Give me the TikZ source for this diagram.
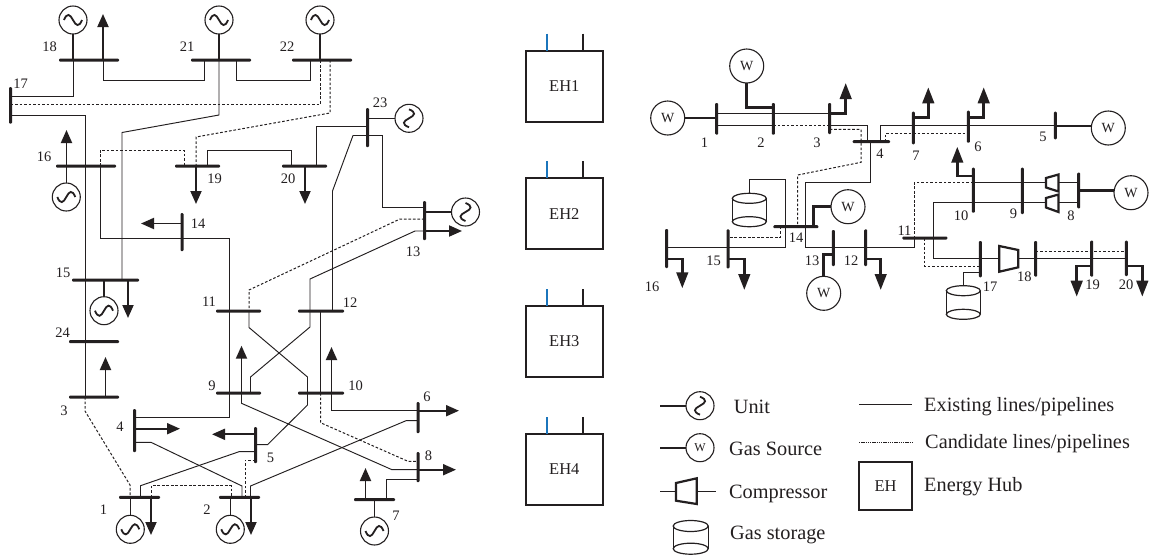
\documentclass[tikz,border=0pt]{standalone}
\usepackage{fontspec}
\setmainfont{Liberation Serif}
\usetikzlibrary{arrows.meta}
\definecolor{ink}{HTML}{231F20}
\definecolor{hubblue}{HTML}{1B75BC}
\makeatletter
\def\hp@parse#1,#2\relax{\pgf@process{\pgfpointanchor{#1}{center}}\pgf@x=#2pt\relax}
\def\vp@parse#1,#2\relax{\pgf@process{\pgfpointanchor{#1}{center}}\pgf@y=-#2pt\relax}
\tikzdeclarecoordinatesystem{hp}{\hp@parse#1\relax}
\tikzdeclarecoordinatesystem{vp}{\vp@parse#1\relax}
\makeatother
\tikzset{
  busbar/.style={draw=none,fill=ink,inner sep=0pt,outer sep=0pt,rounded corners=1pt},
  wire/.style={draw=ink,line width=0.95pt},
  cand/.style={draw=ink,line width=1pt,dash pattern=on 2.6pt off 1.9pt},
  feed/.style={draw=ink,line width=1.6pt},
  gasfeed/.style={draw=ink,line width=2.8pt},
  eload/.style={draw=ink,line width=1.9pt,-{Triangle[length=13pt,width=11pt]}},
  gload/.style={draw=ink,line width=2.8pt,-{Triangle[length=16pt,width=11.5pt]}},
  gencirc/.style={circle,draw=ink,line width=1.1pt,minimum size=28pt,inner sep=0pt,outer sep=0pt},
  wcirc/.style={circle,draw=ink,line width=1.1pt,minimum size=34pt,inner sep=0pt,outer sep=0pt,font=\fontsize{14}{14}\selectfont,text=ink},
  wave/.style={draw=ink,line width=1.8pt},
  lab/.style={inner sep=0pt,text=ink,font=\fontsize{14.5}{15}\selectfont},
  legtext/.style={inner sep=0pt,anchor=west,text=ink,font=\fontsize{20.3}{21}\selectfont},
  hubbox/.style={rectangle,draw=ink,line width=1.7pt,inner sep=0pt,outer sep=0pt,text=ink,font=\fontsize{16.5}{17}\selectfont},
  comp/.style={draw=ink,line width=2.2pt,line join=miter},
  cyl/.style={draw=ink,line width=1.2pt},
}
\newcommand\hbus[4]{\node[busbar,minimum width={#3-#2},minimum height=3pt] (#1) at ({(#2+#3)/2},#4) {};}
\newcommand\vbus[4]{\node[busbar,minimum width=3pt,minimum height={#4-#3}] (#1) at (#2,{(#3+#4)/2}) {};}
\newcommand\lab[4]{\node[lab] (#1) at (#2,#3) {#4};}
\newcommand\wavehoriz[1]{\draw[wave,shift={(#1)}] (-9,0) .. controls (-6,-7.5) and (-3,-6) .. (0,0) .. controls (3,6) and (6,7.5) .. (9,0);}
\newcommand\wavemirror[1]{\draw[wave,shift={(#1)},yscale=-1] (-9,0) .. controls (-6,-7.5) and (-3,-6) .. (0,0) .. controls (3,6) and (6,7.5) .. (9,0);}
\newcommand\wavevert[1]{\draw[wave,shift={(#1)},rotate=90] (-9,0) .. controls (-6,-7.5) and (-3,-6) .. (0,0) .. controls (3,6) and (6,7.5) .. (9,0);}
% storage: name, cx, ytop, ybot, rx, ry
\newcommand\storage[6]{%
  \draw[cyl] (#2,#3) ellipse [x radius=#5,y radius=#6];
  \draw[cyl] (#2,#4) ellipse [x radius=#5,y radius=#6];
  \draw[cyl] ({#2-#5},#3) -- ({#2-#5},#4) ({#2+#5},#3) -- ({#2+#5},#4);
  \coordinate (#1) at (#2,{#3-#6});}
\begin{document}
\begin{tikzpicture}[x=1pt,y=-1pt]
\useasboundingbox (0,0) rectangle (1151,558);
\fill[white] (0,0) rectangle (1151,558);
% ---------- power system buses
\hbus{e18}{59}{119}{60}
\hbus{e21}{191}{251}{60}
\hbus{e22}{292}{352}{60}
\vbus{e17}{10.5}{87}{123.5}
\hbus{e16}{56}{116}{166}
\hbus{e19}{175}{220}{166}
\hbus{e20}{282}{327}{166}
\vbus{e23}{367.5}{108}{147}
\vbus{e13}{424.5}{201}{240}
\vbus{e14}{182}{213}{251}
\hbus{e15}{72}{139}{280}
\hbus{e11}{216}{261}{311}
\hbus{e12}{298}{344}{311}
\hbus{e24}{69}{119}{341.7}
\hbus{e9}{216}{261}{393}
\hbus{e10}{298}{344}{393}
\hbus{e3}{69}{119}{397}
\vbus{e4}{134.5}{409}{452}
\vbus{e5}{255.5}{427}{463}
\vbus{e6}{418}{402}{433}
\vbus{e8}{418}{452}{482}
\hbus{e7}{354}{395}{499.7}
\hbus{e1}{119}{160}{497.3}
\hbus{e2}{219}{260}{497.3}
% generators
\node[gencirc] (u18) at (73,20) {};
\node[gencirc] (u21) at (219,20) {};
\node[gencirc] (u22) at (320,20) {};
\node[gencirc] (u16) at (66.3,197) {};
\node[gencirc] (u15) at (104,310.7) {};
\node[gencirc] (u23) at (409,118.3) {};
\node[gencirc] (u13) at (465.5,212) {};
\node[gencirc] (u1) at (130.3,529.3) {};
\node[gencirc] (u2) at (230.3,529.3) {};
\node[gencirc] (u7) at (374.5,531) {};
\wavehoriz{u18}\wavehoriz{u21}\wavehoriz{u22}
\wavemirror{u16}\wavemirror{u15}\wavemirror{u1}\wavemirror{u2}\wavemirror{u7}
\wavevert{u23}\wavevert{u13}
\draw[feed] (u18 |- e18) -- (u18);
\draw[feed] (u21 |- e21) -- (u21);
\draw[feed] (u22 |- e22) -- (u22);
\draw[feed] (u16 |- e16) -- (u16);
\draw[feed] (u15 |- e15) -- (u15);
\draw[feed] (u1 |- e1) -- (u1);
\draw[feed] (u2 |- e2) -- (u2);
\draw[feed] (u7 |- e7) -- (u7);
\draw[feed] (u23 -| e23) -- (u23);
\draw[feed] (u13 -| e13) -- (u13);
% loads
\coordinate (l18) at (103,14);  \draw[eload] (hp cs:e18,103) -- (l18);
\coordinate (l16) at (66.5,130); \draw[eload] (hp cs:e16,66.5) -- (l16);
\coordinate (l19) at (196,204); \draw[eload] (hp cs:e19,196) -- (l19);
\coordinate (l20) at (305,204); \draw[eload] (hp cs:e20,305) -- (l20);
\coordinate (l14) at (141,223.5); \draw[eload] (vp cs:e14,223.5) -- (l14);
\coordinate (l13) at (462,231); \draw[eload] (vp cs:e13,231) -- (l13);
\coordinate (l15) at (128,318); \draw[eload] (hp cs:e15,128) -- (l15);
\coordinate (l3) at (105.5,357); \draw[eload] (hp cs:e3,105.5) -- (l3);
\coordinate (l9) at (241.5,345.7); \draw[eload] (hp cs:e9,241.5) -- (l9);
\coordinate (l10) at (331.5,347); \draw[eload] (hp cs:e10,331.5) -- (l10);
\coordinate (l4) at (180,428.7); \draw[eload] (vp cs:e4,428.7) -- (l4);
\coordinate (l5) at (212,434.3); \draw[eload] (vp cs:e5,434.3) -- (l5);
\coordinate (l6) at (459,410.7); \draw[eload] (vp cs:e6,410.7) -- (l6);
\coordinate (l8) at (456,469.7); \draw[eload] (vp cs:e8,469.7) -- (l8);
\coordinate (l7) at (365.5,468); \draw[eload] (hp cs:e7,365.5) -- (l7);
\coordinate (l1) at (151,535); \draw[eload] (hp cs:e1,151) -- (l1);
\coordinate (l2) at (251,535); \draw[eload] (hp cs:e2,251) -- (l2);
% lines
\draw[wire] (hp cs:e18,103) -- (103,80) -- (204.5,80) -- (hp cs:e21,204.5);
\draw[wire] (hp cs:e21,236) -- (236,80) -- (310,80) -- (hp cs:e22,310);
\draw[wire] (hp cs:e18,73) -- (73,96.5) -- (vp cs:e17,96.5);
\draw[cand] (vp cs:e17,104.5) -- (320,104.5) -- (hp cs:e22,320);
\draw[cand] (hp cs:e22,330) -- (330,113) -- (196,137) -- (hp cs:e19,196);
\draw[wire] (vp cs:e17,115) -- (85,115) -- (hp cs:e15,85);
\draw[wire] (hp cs:e15,85) -- (hp cs:e24,85);
\draw[wire] (hp cs:e24,85) -- (hp cs:e3,85);
\draw[cand] (hp cs:e16,100) -- (100,150) -- (184,150) -- (hp cs:e19,184);
\draw[wire] (hp cs:e16,100) -- (100,238.5) -- (vp cs:e14,238.5);
\draw[wire] (vp cs:e14,238.5) -- (229,238.5) -- (hp cs:e11,229);
\draw[wire] (hp cs:e11,229) -- (hp cs:e9,229);
\draw[wire] (hp cs:e9,229) -- (229,417.7) -- (vp cs:e4,417.7);
\draw[wire] (hp cs:e21,219) -- (219,115) -- (122,132.5) -- (hp cs:e15,122);
\draw[wire] (hp cs:e19,207) -- (207,150) -- (291,150) -- (hp cs:e20,291);
\draw[wire] (hp cs:e20,316) -- (316,126.5) -- (vp cs:e23,126.5);
\draw[wire] (vp cs:e23,135.5) -- (353,135.5) -- (332.5,191) -- (hp cs:e12,332.5);
\draw[wire] (vp cs:e23,135.5) -- (382,135.5) -- (382,207.5) -- (vp cs:e13,207.5);
\draw[cand] (vp cs:e13,219) -- (400,219) -- (249,290) -- (hp cs:e11,249);
\draw[wire] (vp cs:e13,231) -- (415,231) -- (310,279) -- (hp cs:e12,310);
\draw[wire] (hp cs:e12,310) -- (310,327) -- (250.5,377) -- (hp cs:e9,250.5);
\draw[wire] (hp cs:e11,249) -- (249,327.5) -- (307.5,377) -- (hp cs:e10,307.5);
\draw[wire] (hp cs:e10,307.5) -- (307.5,405) -- (267.5,444.7) -- (vp cs:e5,444.7);
\draw[wire] (hp cs:e12,320.5) -- (hp cs:e10,320.5);
\draw[wire] (hp cs:e10,331.5) -- (331.5,410.7) -- (vp cs:e6,410.7);
\draw[wire] (hp cs:e9,241.5) -- (241.5,403.3) -- (392,469.7) -- (vp cs:e8,469.7);
\draw[cand] (hp cs:e10,320.5) -- (320.5,422.7) -- (408,461.3) -- (vp cs:e8,461.3);
\draw[wire] (vp cs:e8,479) -- (386,479) -- (hp cs:e7,386);
\draw[wire] (vp cs:e6,420.7) -- (406,420.7) -- (250.5,486) -- (hp cs:e2,250.5);
\draw[wire] (hp cs:e1,140.5) -- (140.5,485.7) -- (239,451.7) -- (vp cs:e5,451.7);
\draw[cand] (hp cs:e1,151) -- (151,485.7) -- (231,485.7) -- (hp cs:e2,231);
\draw[cand] (hp cs:e3,85) -- (85,411) -- (130,485) -- (hp cs:e1,130);
\draw[wire] (vp cs:e4,442.3) -- (151,442.3) -- (242,486) -- (hp cs:e2,242);
\draw[cand] (hp cs:e2,245) -- (245,460) -- (vp cs:e5,460);
% power labels
\lab{n18}{49.5}{47}{18}\lab{n21}{187}{47}{21}\lab{n22}{287}{47}{22}
\lab{n17}{20.5}{84}{17}\lab{n23}{380}{103}{23}\lab{n16}{44}{157}{16}
\lab{n19}{214.5}{178.5}{19}\lab{n20}{288}{178.5}{20}\lab{n14}{198}{224}{14}
\lab{n13}{413}{251.5}{13}\lab{n15}{63}{272.5}{15}\lab{n11}{209}{302}{11}
\lab{n12}{350}{303}{12}\lab{n24}{62.5}{333}{24}\lab{n9}{212}{385.5}{9}
\lab{n10}{355.5}{385.5}{10}\lab{n3}{64}{410.5}{3}\lab{n4}{120}{427}{4}
\lab{n5}{270.5}{458}{5}\lab{n6}{427}{396.5}{6}\lab{n8}{428.5}{456}{8}
\lab{n7}{396}{516}{7}\lab{n1}{103.5}{509.5}{1}\lab{n2}{207}{509.5}{2}
% ---------- energy hubs
\node[hubbox,minimum width=76.7pt,minimum height=71pt] (h1) at (564.3,86.2) {EH1};
\node[hubbox,minimum width=76.7pt,minimum height=71pt] (h2) at (564.3,213.7) {EH2};
\node[hubbox,minimum width=76.7pt,minimum height=71pt] (h3) at (564.3,341.5) {EH3};
\node[hubbox,minimum width=76.7pt,minimum height=71pt] (h4) at (564.3,469.5) {EH4};
\foreach \h in {h1,h2,h3,h4}{
  \coordinate (\h a) at ([xshift=-17.6,yshift=17]\h.north);
  \coordinate (\h b) at ([xshift=18.4,yshift=17]\h.north);
  \draw[draw=hubblue,line width=1.7pt] (\h a) -- (\h a |- \h.north);
  \draw[draw=ink,line width=1.7pt] (\h b) -- (\h b |- \h.north);
}
% ---------- gas system buses
\vbus{g1}{716.7}{103}{134.7}
\vbus{g2}{773.3}{103}{134.7}
\vbus{g3}{829.7}{103}{134}
\hbus{g4}{852.7}{890}{141.7}
\vbus{g7}{913.3}{111.7}{144.3}
\vbus{g6}{968.3}{110.7}{142.7}
\vbus{g5}{1055.3}{111.7}{139.3}
\vbus{g10}{973.3}{167.7}{212.7}
\vbus{g9}{1022.3}{167.7}{214}
\vbus{g8}{1078.7}{172.7}{208.3}
\hbus{g11}{902.3}{947.3}{238}
\vbus{g12}{865.7}{229.3}{266}
\vbus{g13}{833.3}{230}{266}
\hbus{g14}{773.3}{818.3}{226.7}
\vbus{g15}{728}{229.3}{268.3}
\vbus{g16}{666.7}{229}{268}
\vbus{g17}{980.3}{241}{277.3}
\vbus{g18}{1035.7}{241}{276.7}
\vbus{g19}{1091.7}{240.7}{276.7}
\vbus{g20}{1126.3}{240.7}{276}
% sources
\node[wcirc] (w1) at (667.7,118) {W};
\node[wcirc] (w2) at (746.7,66) {W};
\node[wcirc] (w5) at (1108.3,128) {W};
\node[wcirc] (w8) at (1131,192.7) {W};
\node[wcirc] (w14) at (848,206.7) {W};
\node[wcirc] (w13) at (823.7,293.3) {W};
\draw[gasfeed] (w1) -- (vp cs:g1,118);
\draw[gasfeed] (w2) -- (746.7,107.3) -- (vp cs:g2,107.3);
\draw[gasfeed] ([yshift=2]w5.west) -- (vp cs:g5,126);
\draw[gasfeed] ([yshift=2]w8.west) -- (vp cs:g8,190.7);
\draw[gasfeed] (w14) -- (813.3,206.7) -- (hp cs:g14,813.3);
\draw[gasfeed] (w13) -- (823.7,254.3) -- (vp cs:g13,254.3);
% gas loads
\coordinate (gl3) at (845.7,83); \draw[gload] (vp cs:g3,113.3) -| (gl3);
\coordinate (gl7) at (928.3,87.3); \draw[gload] (vp cs:g7,117.3) -| (gl7);
\coordinate (gl6) at (983.7,87.3); \draw[gload] (vp cs:g6,117.3) -| (gl6);
\coordinate (gl10) at (957.3,146.7); \draw[gload] (vp cs:g10,176) -| (gl10);
\coordinate (gl12) at (880.7,290); \draw[gload] (vp cs:g12,259) -| (gl12);
\coordinate (gl15) at (744.3,290); \draw[gload] (vp cs:g15,259) -| (gl15);
\coordinate (gl16) at (682.3,288.3); \draw[gload] (vp cs:g16,259) -| (gl16);
\coordinate (gl19) at (1076.7,296.7); \draw[gload] (vp cs:g19,266) -| (gl19);
\coordinate (gl20) at (1142.3,296.7); \draw[gload] (vp cs:g20,266) -| (gl20);
% compressors
\draw[comp] (1046,178) -- (1058.5,174.5) -- (1058.5,191.5) -- (1046,187.5) -- cycle;
\draw[comp] (1046,198) -- (1058.5,194.5) -- (1058.5,212) -- (1046,207.5) -- cycle;
\draw[comp] (999.3,246) -- (1018.3,250) -- (1018.3,267.3) -- (999.3,271.7) -- cycle;
\coordinate (ca1) at (1046,182.7); \coordinate (ca2) at (1058.5,182.7);
\coordinate (cb1) at (1046,202.7); \coordinate (cb2) at (1058.5,202.7);
\coordinate (cc1) at (999.3,258.5); \coordinate (cc2) at (1018.3,258.5);
% storages
\storage{s1}{749.3}{198.3}{221.7}{17}{5}
\storage{s2}{963.3}{290.7}{314.3}{17}{5}
% pipelines
\draw[wire] (vp cs:g1,113.3) -- (vp cs:g2,113.3);
\draw[wire] (vp cs:g1,125.7) -- (vp cs:g2,125.7);
\draw[wire] (vp cs:g2,113.3) -- (vp cs:g3,113.3);
\draw[cand] (vp cs:g2,125.7) -- (vp cs:g3,125.7);
\draw[wire] (vp cs:g3,125.7) -- (867.3,125.7) -- (hp cs:g4,867.3);
\draw[cand] (vp cs:g3,129.3) -- (861,129.3) -- (861,162.3) -- (797.7,175) -- (hp cs:g14,797.7);
\draw[wire] (hp cs:g4,870.7) -- (870.7,182.7) -- (805,182.7) -- (hp cs:g14,805);
\draw[wire] (hp cs:g14,805) -- (805,247.3) -- (vp cs:g13,247.3);
\draw[wire] (hp cs:g4,880.3) -- (880.3,125.7) -- (vp cs:g7,125.7);
\draw[wire] (vp cs:g7,125.7) -- (vp cs:g6,125.7);
\draw[wire] (vp cs:g6,125.7) -- (vp cs:g5,125.7);
\draw[cand] (hp cs:g4,885) -- (885,133.7) -- (vp cs:g6,133.7);
\draw[wire] (vp cs:g10,182.7) -- (vp cs:g9,182.7);
\draw[wire] (vp cs:g10,202.7) -- (vp cs:g9,202.7);
\draw[wire] (vp cs:g9,182.7) -- (ca1);
\draw[wire] (vp cs:g9,202.7) -- (cb1);
\draw[wire] (ca2) -- (vp cs:g8,182.7);
\draw[wire] (cb2) -- (vp cs:g8,202.7);
\draw[cand] (vp cs:g10,182.7) -- (914,182.7) -- (hp cs:g11,914);
\draw[wire] (vp cs:g10,202.7) -- (933.7,202.7) -- (hp cs:g11,933.7);
\draw[wire] (hp cs:g11,933.7) -- (933.7,258.3) -- (vp cs:g17,258.3);
\draw[cand] (hp cs:g11,924.3) -- (924.3,266) -- (vp cs:g17,266);
\draw[wire] (hp cs:g11,914.7) -- (914.7,247.3) -- (vp cs:g12,247.3);
\draw[wire] (vp cs:g12,247.3) -- (vp cs:g13,247.3);
\draw[wire] (s1) -- (749.3,179.7) -- (785.3,179.7) -- (hp cs:g14,785.3);
\draw[wire] (hp cs:g14,785.3) -- (785.3,247.3) -- (vp cs:g15,247.3);
\draw[wire] (vp cs:g15,247.3) -- (vp cs:g16,247.3);
\draw[cand] (hp cs:g14,780.7) -- (780.7,237) -- (vp cs:g15,237);
\draw[wire] (vp cs:g17,258.5) -- (cc1);
\draw[wire] (cc2) -- (vp cs:g18,258.5);
\draw[wire] (vp cs:g18,258.7) -- (vp cs:g19,258.7);
\draw[wire] (vp cs:g19,258.7) -- (vp cs:g20,258.7);
\draw[cand] (vp cs:g18,251.3) -- (vp cs:g20,251.3);
\draw[wire] (s2) -- (963.3,272.3) -- (vp cs:g17,272.3);
% gas labels
\lab{m1}{704.5}{143}{1}\lab{m2}{761}{143}{2}\lab{m3}{817}{143}{3}
\lab{m4}{880}{153.5}{4}\lab{m7}{916}{156}{7}\lab{m6}{978}{147}{6}
\lab{m5}{1043}{137}{5}\lab{m10}{961}{216}{10}\lab{m9}{1013.5}{214}{9}
\lab{m8}{1071}{215.5}{8}\lab{m11}{904.5}{231}{11}\lab{m14}{796}{237.7}{14}
\lab{m15}{713.5}{260.7}{15}\lab{m13}{812}{260.7}{13}\lab{m12}{851}{260.7}{12}
\lab{m16}{652}{287}{16}\lab{m17}{990}{286.7}{17}\lab{m18}{1024.3}{277}{18}
\lab{m19}{1092.7}{285}{19}\lab{m20}{1126}{285}{20}
% ---------- legend
\node[gencirc] (ku) at (700,405.7) {};
\wavevert{ku}
\coordinate (kua) at (660,405.7);
\draw[feed] (kua) -- (ku);
\node[legtext] (ktu) at (733.7,406.5) {Unit};
\node[gencirc,font=\fontsize{12}{12}\selectfont,text=ink] (kw) at (700,447.7) {W};
\coordinate (kwa) at (660,447.7);
\draw[draw=ink,line width=2pt] (kwa) -- (kw);
\node[legtext] (ktw) at (729,448.5) {Gas Source};
\draw[comp] (676,483) -- (696.7,478.3) -- (696.7,504) -- (676,500.7) -- cycle;
\coordinate (kca) at (660,491.7); \coordinate (kcb) at (676,491.7);
\coordinate (kcc) at (696.7,491.7); \coordinate (kcd) at (716,491.7);
\draw[wire] (kca) -- (kcb);
\draw[wire] (kcc) -- (kcd);
\node[legtext] (ktc) at (729,493.5) {Compressor};
\storage{ks}{690.7}{526}{548.7}{17.5}{5.5}
\node[legtext] (kts) at (730,535) {Gas storage};
\coordinate (kea) at (859,404.3); \coordinate (keb) at (912,404.3);
\draw[wire] (kea) -- (keb);
\node[legtext] (kte) at (924,406.5) {Existing lines/pipelines};
\coordinate (kda) at (859,442); \coordinate (kdb) at (912,442);
\draw[draw=ink,line width=0.9pt,dash pattern=on 1.3pt off 0.9pt] (kda) -- (kdb);
\node[legtext] (ktd) at (925,444) {Candidate lines/pipelines};
\node[hubbox,minimum width=53pt,minimum height=48.3pt] (kh) at (885.5,485.8) {EH};
\node[legtext] (kth) at (924,487) {Energy Hub};
\end{tikzpicture}
\end{document}
